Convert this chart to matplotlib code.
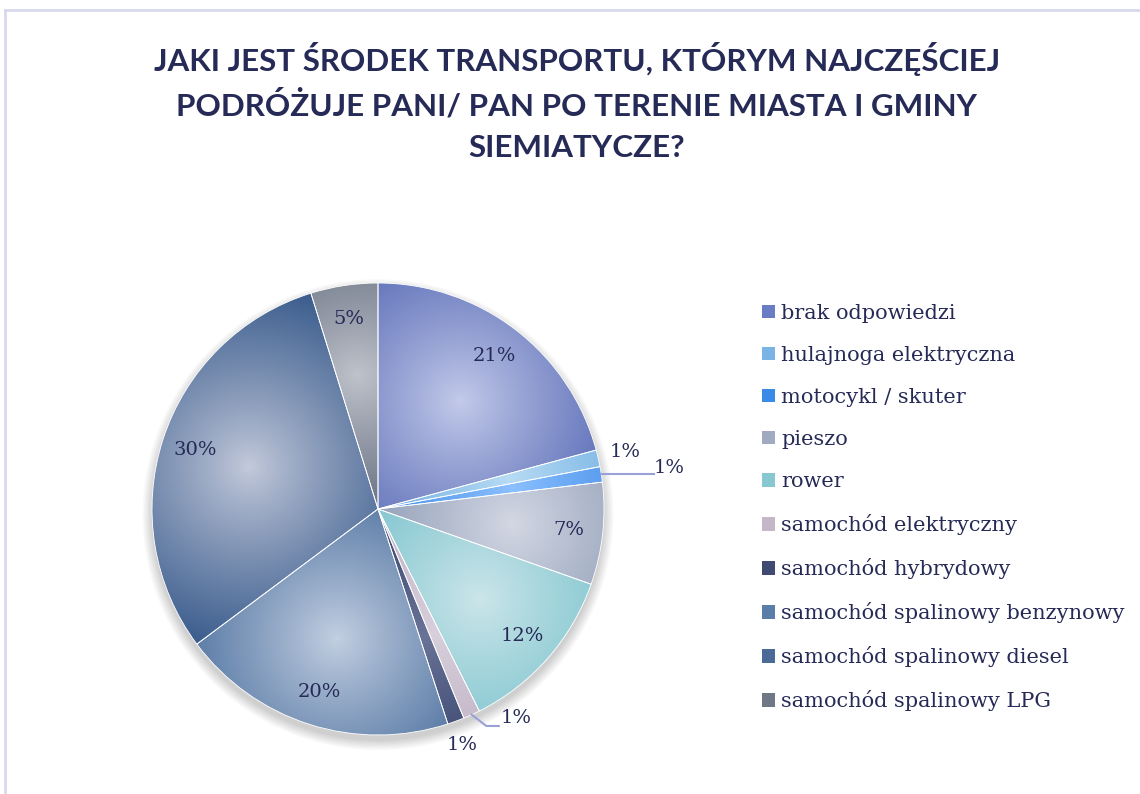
import numpy as np
import matplotlib
matplotlib.use("Agg")
import matplotlib.pyplot as plt
from matplotlib.patches import Patch, Circle
from matplotlib.lines import Line2D
from matplotlib.colors import to_rgb

# data
categories = ["brak odpowiedzi", "hulajnoga elektryczna", "motocykl / skuter", "pieszo", "rower",
              "samochód elektryczny", "samochód hybrydowy", "samochód spalinowy benzynowy",
              "samochód spalinowy diesel", "samochód spalinowy LPG"]
shares = [20.8, 1.2, 1.1, 7.3, 12.2, 1.2, 1.2, 19.8, 30.4, 4.8]
labels = ["21%", "1%", "1%", "7%", "12%", "1%", "1%", "20%", "30%", "5%"]

edge_colors = ["#4c60b0", "#5aa0dc", "#2f80e0", "#8090ac", "#6cbcc8",
               "#b8a8bc", "#2a3660", "#3d6496", "#35588a", "#4c566a"]
center_colors = ["#c4cbea", "#b8dcf4", "#8cc0ff", "#d4d8e4", "#cce6ea",
                 "#d8d0dc", "#6a7498", "#c4d0e2", "#c4cadb", "#c0c4cc"]
legend_colors = ["#6a7cc4", "#7ab4e4", "#3a8ae8", "#a0aac0", "#88c8d0",
                 "#c4b8c8", "#3e4a72", "#5a7eaa", "#4a6a98", "#707888"]

text_col = "#262a56"

W, H = 1140, 794
fig = plt.figure(figsize=(W / 100, H / 100), dpi=100)

# chart border (light lavender)
fig.add_artist(Line2D([5 / W, 1], [1 - 10 / H, 1 - 10 / H], color="#d8d8ee", lw=2))
fig.add_artist(Line2D([5 / W, 5 / W], [0, 1 - 10 / H], color="#d8d8ee", lw=2))

fig.text(577 / W, 1 - 102 / H,
         "JAKI JEST ŚRODEK TRANSPORTU, KTÓRYM NAJCZĘŚCIEJ\nPODRÓŻUJE PANI/ PAN PO TERENIE MIASTA I GMINY\nSIEMIATYCZE?",
         ha="center", va="center", fontsize=22.6, fontweight="bold", color=text_col,
         family=["Lato", "DejaVu Sans"], linespacing=1.56)

# pie axes: centre (378, 509) px, radius 226 px
R = 226
cx, cy = 378, H - 509
ax = fig.add_axes([(cx - 1.4 * R) / W, (cy - 1.2 * R) / H, 2.8 * R / W, 2.4 * R / H])

# soft shadow
for k in range(8):
    ax.add_patch(Circle((0.0, -0.025), 1.0 + 0.006 * k, color="black", alpha=0.025, lw=0, zorder=0))

wedges, _ = ax.pie(shares, startangle=90, counterclock=False, colors=edge_colors,
                   wedgeprops=dict(linewidth=0.6, edgecolor="white"))

# radial gradient inside each wedge
n = 500
xs = np.linspace(-1.02, 1.02, n)
X, Y = np.meshgrid(xs, xs[::-1])
for w, c0, c1 in zip(wedges, center_colors, edge_colors):
    mid = np.deg2rad((w.theta1 + w.theta2) / 2)
    fx, fy = 0.6 * np.cos(mid), 0.6 * np.sin(mid)
    d = np.hypot(X - fx, Y - fy)
    t = np.clip(d / 0.85, 0, 1) ** 0.9
    a, b = np.array(to_rgb(c0)), np.array(to_rgb(c1))
    img = a[None, None, :] * (1 - t[..., None]) + b[None, None, :] * t[..., None]
    im = ax.imshow(img, extent=(-1.02, 1.02, -1.02, 1.02), zorder=2, interpolation="bilinear")
    im.set_clip_path(w)
    w.set_zorder(3)
    w.set_facecolor("none")

# percentage labels
lab_font = dict(family="DejaVu Serif", fontsize=14, color=text_col)
outside = {1: (1.12, 0.0), 2: (1.30, -0.8), 5: (1.11, 9.0), 6: (1.11, -0.5)}
for i, (w, lab) in enumerate(zip(wedges, labels)):
    mid = (w.theta1 + w.theta2) / 2
    if i in outside:
        r, dang = outside[i]
        ang = np.deg2rad(mid + dang)
    else:
        r, ang = 0.85, np.deg2rad(mid)
    ax.text(r * np.cos(ang), r * np.sin(ang), lab, ha="center", va="center", zorder=5, **lab_font)

# leader lines for the small outside labels
m2 = np.deg2rad((wedges[2].theta1 + wedges[2].theta2) / 2)
ax.plot([np.cos(m2), 1.22], [np.sin(m2), np.sin(m2)], color="#9aa0d8", lw=1.5, zorder=4)
m5 = np.deg2rad((wedges[5].theta1 + wedges[5].theta2) / 2)
x5, y5 = np.cos(m5), np.sin(m5)
ax.plot([x5, x5 + 0.065, x5 + 0.12], [y5, y5 - 0.05, y5 - 0.05], color="#9aa0d8", lw=1.5, zorder=4)

ax.set_xlim(-1.4, 1.4)
ax.set_ylim(-1.2, 1.2)
ax.set_aspect("auto")
ax.axis("off")

handles = [Patch(facecolor=c, edgecolor="none") for c in legend_colors]
leg = fig.legend(handles, categories, loc="upper left", bbox_to_anchor=(762 / W, 1 - 304 / H),
                 frameon=False, prop=dict(family="DejaVu Serif", size=15),
                 handlelength=0.62, handleheight=0.62, handletextpad=0.3, labelspacing=1.105,
                 borderaxespad=0, borderpad=0)
for t in leg.get_texts():
    t.set_color(text_col)

fig.savefig("out.png", dpi=100, facecolor="white")
